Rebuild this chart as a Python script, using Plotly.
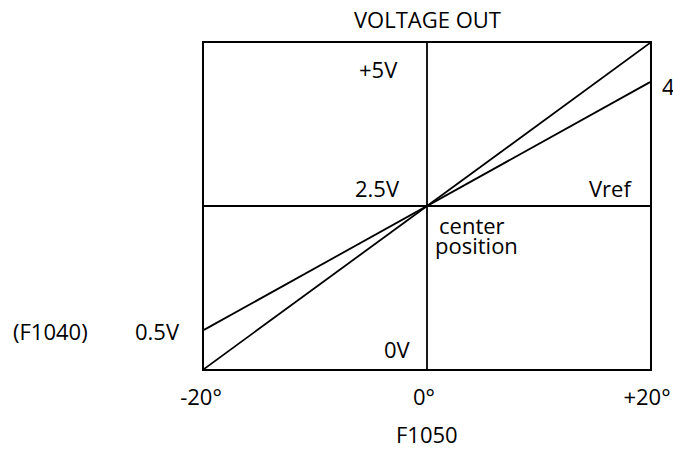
import plotly.graph_objects as go

# Data
angle_deg = [-20, 20]
v_f1050 = [0.0, 5.0]
v_f1040 = [0.6, 4.4]
tick_vals = [-20, 0, 20]
tick_text = ["-20°", "0°", "+20°"]
vref = 2.5

FONT = "Open Sans"
FS = 22

fig = go.Figure()
fig.add_trace(go.Scatter(x=angle_deg, y=v_f1050, mode="lines",
                         line=dict(color="black", width=1.8), showlegend=False,
                         hoverinfo="skip"))
fig.add_trace(go.Scatter(x=angle_deg, y=v_f1040, mode="lines",
                         line=dict(color="black", width=1.8), showlegend=False,
                         hoverinfo="skip"))

fig.add_shape(type="line", xref="x", yref="y", x0=-20, x1=20, y0=vref, y1=vref,
              line=dict(color="black", width=1.8))
fig.add_shape(type="line", xref="x", yref="y", x0=0, x1=0, y0=0, y1=5,
              line=dict(color="black", width=1.8))

def ann(text, x, y, xref="x", yref="y", xanchor="center", yanchor="middle", align="center"):
    fig.add_annotation(text=text, x=x, y=y, xref=xref, yref=yref, showarrow=False,
                       xanchor=xanchor, yanchor=yanchor, align=align,
                       font=dict(family=FONT, size=FS, color="black"))

ann("+5V", -2.4, 4.6, xanchor="right")
ann("2.5V", -2.2, 2.77, xanchor="right")
ann("0V", -1.3, 0.31, xanchor="right")
ann("Vref", 16.5, 2.77)
ann("center", 0.9, 2.21, xanchor="left")
ann("position", 0.55, 1.9, xanchor="left")
ann("0.5V", -0.105, 0.118, xref="paper", yref="paper")
ann("(F1040)", -0.345, 0.118, xref="paper", yref="paper")
ann("4.5V", 1.022, 0.868, xref="paper", yref="paper", xanchor="left")
ann("VOLTAGE OUT", 0.5, 1.074, xref="paper", yref="paper")
ann("F1050", 0.5, -0.2, xref="paper", yref="paper")

fig.update_xaxes(range=[-20, 20], tickvals=tick_vals, ticktext=tick_text,
                 showgrid=False, zeroline=False, showline=True, mirror=True,
                 linecolor="black", linewidth=2, ticks="", ticklabelstandoff=8,
                 ticklabelshift=-3, ticklabeloverflow="allow", automargin=False,
                 tickfont=dict(family=FONT, size=FS, color="black"))
fig.update_yaxes(range=[0, 5], showticklabels=False, showgrid=False, zeroline=False,
                 showline=True, mirror=True, linecolor="black", linewidth=2, ticks="",
                 automargin=False)

fig.update_layout(width=673, height=454, margin=dict(l=204, r=23, t=43, b=85),
                  plot_bgcolor="white", paper_bgcolor="white",
                  font=dict(family=FONT, size=FS, color="black"))

fig.write_html(
    "out.html",
    config={"displayModeBar": False},
    post_script=(
        "document.body.style.margin='0';"
        "document.body.style.overflow='hidden';"
        "document.documentElement.style.overflow='hidden';"
    ),
)
